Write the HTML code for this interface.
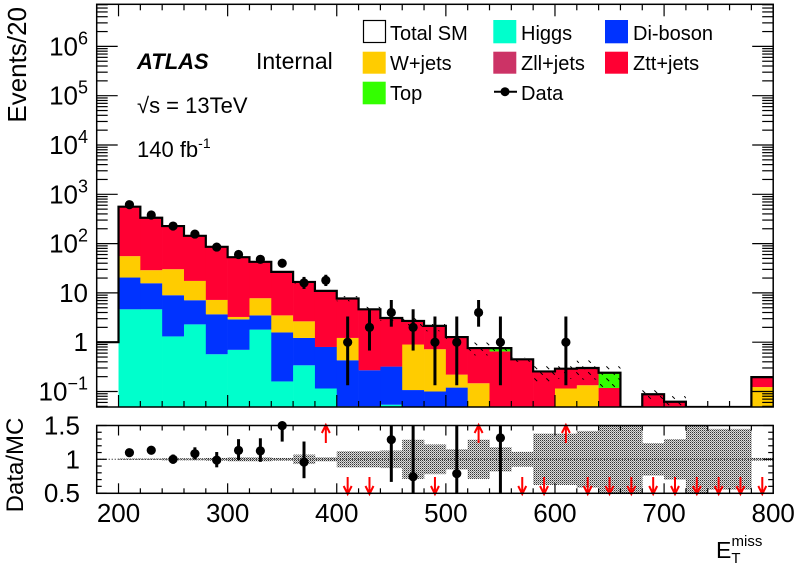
<!DOCTYPE html>
<html><head><meta charset="utf-8"><style>
html,body{margin:0;padding:0;background:#fff}
svg{display:block;font-family:"Liberation Sans",Arial,sans-serif}
</style></head><body>
<svg id="c" width="796" height="572" viewBox="0 0 796 572" xmlns="http://www.w3.org/2000/svg">
<defs>
<clipPath id="mainClip"><rect x="96.7" y="4.3" width="676.5" height="402.7"/></clipPath>
<clipPath id="ratioClip"><rect x="96.7" y="425.5" width="676.5" height="67.8"/></clipPath>
<pattern id="hatch" width="12" height="12" patternUnits="userSpaceOnUse"><path d="M0,0 L12,12" stroke="#000" stroke-width="1" stroke-dasharray="4,5"/></pattern>
<pattern id="stipple" width="2" height="2" patternUnits="userSpaceOnUse"><rect width="2" height="2" fill="#ddd"/><rect width="1" height="1" fill="#333"/><rect x="1" y="1" width="1" height="1" fill="#888"/></pattern>
</defs>
<g id="mainStack" clip-path="url(#mainClip)"></g>
<g id="mainOverlay"></g>
<g id="ratioLayer"></g>
<g id="axes"></g>
<g id="texts">
<text x="26" y="7" transform="rotate(-90 26 7)" text-anchor="end" font-size="26">Events/20</text>
<text x="23" y="465" transform="rotate(-90 23 465)" text-anchor="middle" font-size="24">Data/MC</text>
<text x="716" y="558" font-size="23">E<tspan font-size="15" dx="0" dy="5">T</tspan><tspan font-size="15" dx="-9" dy="-17">miss</tspan></text>
<text x="137" y="69" font-size="22" font-weight="bold" font-style="italic">ATLAS</text>
<text x="256" y="69" font-size="23">Internal</text>
<text x="137" y="113" font-size="22">√s = 13TeV</text>
<text x="137" y="157" font-size="22">140 fb<tspan font-size="14" dy="-9">-1</tspan></text>
</g>
<g id="legend" font-size="20">
<g><rect x="363.5" y="20.5" width="22" height="22" fill="#fff" stroke="#000" stroke-width="1.2"/><text x="390" y="40">Total SM</text></g>
<g><rect x="362.7" y="51.7" width="23" height="22" fill="#ffcc00"/><text x="390" y="70">W+jets</text></g>
<g><rect x="362.7" y="81.7" width="23" height="22.6" fill="#33ff00"/><text x="390" y="100">Top</text></g>
<g><rect x="493.3" y="20" width="23" height="23.3" fill="#00ffcc"/><text x="521" y="40">Higgs</text></g>
<g><rect x="493.3" y="51.7" width="23" height="22" fill="#cc3366"/><text x="521" y="70">Zll+jets</text></g>
<g><line x1="494" y1="91.7" x2="517" y2="91.7" stroke="#000" stroke-width="2"/><circle cx="505" cy="91.7" r="4.5"/><text x="521" y="100">Data</text></g>
<g><rect x="605" y="20" width="23" height="23.3" fill="#0033ff"/><text x="633" y="40">Di-boson</text></g>
<g><rect x="605" y="51.7" width="23" height="22" fill="#ff0033"/><text x="633" y="70">Ztt+jets</text></g>
</g>
</svg>
<script>
// ---- data (bins of 20 GeV, low edges) ----
const binLow = [200,220,240,260,280,300,320,340,360,380,400,420,440,460,480,500,520,540,560,580,600,620,640,660,680,700,720,740,760,780];
const higgs = [4.65,4.65,1.31,2.3,0.57,0.70,1.8,0.16,0.34,0.115,0.05,0.05,0.054,0.045,0.045,0.045,0.045,0.045,0.045,0.045,0.045,0.045,0.045,0,0.045,0.045,0,0,0,0.045];
const diboson = [15.85,11.05,7.66,4.8,3.11,2.2,1.7,1.42,0.88,0.685,0.38,0.22,0.266,0.062,0.055,0.075,0.002,0.004,0,0,0,0,0,0,0,0,0,0,0,0];
const wjets = [35.2,13.2,21.3,10.4,3.52,0.35,4.3,1.92,1.43,0,0.79,0,0,0.79,0.62,0.1,0.1,0,0,0,0.07,0.089,0,0,0,0,0,0,0,0.078];
const zll = [0,0,0,0,0,0,0,0,0,0,0,0,0,0,0,0,0,0,0,0,0,0,0,0,0,0,0,0,0,0];
const ztt = [505.3,306.1,196.7,126.5,78.8,49.75,34.9,23.2,14.05,10.2,6.48,4.38,2.78,1.8,1.42,1.05,0.614,0.60,0.405,0.21,0.175,0.166,0.073,0,0.043,0.017,0,0,0,0.073];
const topq = [0,0,0,0,0,0,0,0,0,0,0,0,0,0,0,0,0,0.11,0,0,0,0,0.122,0,0,0,0,0,0,0];
const dataCounts = [616,380,227,156,85,60,48,40,16,18,1,2,4,2,1,1,4,1,0,0,1,0,0,0,0,0,0,0,0,0];
const mcRelUnc = [0.01,0.01,0.015,0.015,0.02,0.03,0.03,0.02,0.07,0.03,0.12,0.12,0.13,0.29,0.22,0.15,0.29,0.18,0.11,0.38,0.38,0.42,0.5,0.5,0.24,0.3,0.5,0.45,0.45,0.02];
const xTicks = [200,300,400,500,600,700,800];
const yTickExp = [6,5,4,3,2,1,0,-1];
const ratioTicks = [0.5,1,1.5];
const binWidth = 20;
const underflowOutline = 1;

const NS = "http://www.w3.org/2000/svg";
function mk(tag, attrs, parent){const e=document.createElementNS(NS,tag);for(const k in attrs)e.setAttribute(k,attrs[k]);parent.appendChild(e);return e;}
const X0=96.7,X1=773.2,XMIN=180,XMAX=800;
const MT=4.3,MB=407,RT=425.5,RB=493.3;
function X(v){return X0+(v-XMIN)*(X1-X0)/(XMAX-XMIN);}
function Y(v){if(v<=0)return MB+50;return 194.3-(Math.log10(v)-3)*49.3;}
function R(v){return 459.3-(v-1)*67.6;}
function gUp(n){return n+Math.sqrt(n+0.75)+1;}
function gLo(n){return n>0?n-Math.sqrt(n-0.25):0;}

const stackG=document.getElementById('mainStack');
const overG=document.getElementById('mainOverlay');
const ratioG=document.getElementById('ratioLayer');
const axG=document.getElementById('axes');
const comps=[[higgs,'#00ffcc','higgs'],[diboson,'#0033ff','diboson'],[wjets,'#ffcc00','wjets'],[zll,'#cc3366','zll'],[ztt,'#ff0033','ztt'],[topq,'#33ff00','top']];
const total=binLow.map((b,i)=>comps.reduce((s,c)=>s+c[0][i],0));

binLow.forEach((b,i)=>{
  let cum=0;
  comps.forEach(c=>{
    const v=c[0][i]; if(v<=0)return;
    const y1=Y(cum+v), y0=cum>0?Y(cum):MB+50;
    const r=mk('rect',{x:X(b),y:y1,width:X(b+binWidth)-X(b)+0.3,height:Math.max(0,y0-y1),fill:c[1]},stackG);
    
    
    cum+=v;
  });
  if(total[i]>0){
    const hi=Y(total[i]*(1+mcRelUnc[i])), lo=Y(Math.max(total[i]*(1-mcRelUnc[i]),1e-3));
    const h=mk('rect',{x:X(b),y:hi,width:X(b+binWidth)-X(b),height:Math.max(0,lo-hi),fill:'url(#hatch)'},stackG);
    
    
  }
});
let d='M'+X(XMIN)+','+Y(underflowOutline)+' L'+X(binLow[0])+','+Y(underflowOutline);
binLow.forEach((b,i)=>{const y=total[i]>0?Math.min(Y(total[i]),MB):MB;d+=' L'+X(b)+','+y+' L'+X(b+binWidth)+','+y;});
const ol=mk('path',{d:d,fill:'none',stroke:'#000','stroke-width':2.2},stackG);



binLow.forEach((b,i)=>{
  const n=dataCounts[i]; if(n<=0)return;
  const cx=X(b+binWidth/2);
  const g=mk('g',{},overG);
  
  
  mk('line',{x1:cx,x2:cx,y1:Math.min(Y(gLo(n)),MB),y2:Y(gUp(n)),stroke:'#000','stroke-width':3},g);
  mk('circle',{cx:cx,cy:Y(n),r:4.6,fill:'#000'},g);
});

const rg=mk('g',{'clip-path':'url(#ratioClip)'},ratioG);
binLow.forEach((b,i)=>{
  const u=mcRelUnc[i];
  const r=mk('rect',{x:X(b),y:R(1+u),width:X(b+binWidth)-X(b)+0.3,height:R(1-u)-R(1+u),fill:'url(#stipple)'},rg);
  
  
});
mk('line',{x1:X0,x2:X1,y1:R(1),y2:R(1),stroke:'#000','stroke-width':1,'stroke-dasharray':'1,2'},rg);
binLow.forEach((b,i)=>{
  const n=dataCounts[i], mc=total[i], cx=X(b+binWidth/2);
  const ratio=mc>0?n/mc:0;
  if(mc<=0||ratio<0.5){
    const a=mk('path',{d:`M${cx},477 L${cx},494 M${cx-4},486 L${cx},494 L${cx+4},486`,stroke:'#f00','stroke-width':2,fill:'none'},ratioG);
    
    
  } else if(ratio>1.52){
    const a=mk('path',{d:`M${cx},443 L${cx},425 M${cx-4},433 L${cx},425 L${cx+4},433`,stroke:'#f00','stroke-width':2,fill:'none'},ratioG);
    
    
  } else {
    const g=mk('g',{},ratioG);
    
    
    mk('line',{x1:cx,x2:cx,y1:Math.min(R(gLo(n)/mc),RB),y2:Math.max(R(gUp(n)/mc),RT),stroke:'#000','stroke-width':3},g);
    mk('circle',{cx:cx,cy:R(ratio),r:4.6,fill:'#000'},g);
  }
});

[[MT,MB,'main-frame'],[RT,RB,'ratio-frame']].forEach(f=>{
  const r=mk('rect',{x:X0,y:f[0],width:X1-X0,height:f[1]-f[0],fill:'none',stroke:'#000','stroke-width':1.5},axG);
  
  
});
for(let v=XMIN; v<=XMAX; v+=20){
  const maj=v%100===0, x=X(v);
  mk('line',{x1:x,x2:x,y1:MB,y2:MB-(maj?12:6),stroke:'#000','stroke-width':1.2},axG);
  mk('line',{x1:x,x2:x,y1:MT,y2:MT+(maj?12:6),stroke:'#000','stroke-width':1.2},axG);
  mk('line',{x1:x,x2:x,y1:RB,y2:RB-(maj?10:5),stroke:'#000','stroke-width':1.2},axG);
  mk('line',{x1:x,x2:x,y1:RT,y2:RT+(maj?10:5),stroke:'#000','stroke-width':1.2},axG);
}
xTicks.forEach(v=>{
  const t=mk('text',{x:X(v),y:522,'text-anchor':'middle','font-size':26},axG);
  t.textContent=v;
  
  
});
for(let e=-2;e<=6;e++){
  for(let m=1;m<10;m++){
    const y=Y(m*Math.pow(10,e)); if(y<MT||y>MB)continue;
    const L=m===1?21:11;
    mk('line',{x1:X0,x2:X0+L,y1:y,y2:y,stroke:'#000','stroke-width':1.2},axG);
    mk('line',{x1:X1,x2:X1-L,y1:y,y2:y,stroke:'#000','stroke-width':1.2},axG);
  }
}
yTickExp.forEach(e=>{
  const t=mk('text',{x:88,y:Y(Math.pow(10,e))+9,'text-anchor':'end','font-size':26},axG);
  
  
  if(e===0){t.textContent='1';}
  else if(e===1){t.textContent='10';}
  else {t.textContent='10';const s=document.createElementNS(NS,'tspan');s.setAttribute('font-size','18');s.setAttribute('dy','-11');s.textContent=e<0?'\u2212'+(-e):String(e);t.appendChild(s);}
});
for(let k=5;k<=15;k++){
  const v=k/10,y=R(v),maj=k%5===0;
  mk('line',{x1:X0,x2:X0+(maj?10:5),y1:y,y2:y,stroke:'#000','stroke-width':1.2},axG);
  mk('line',{x1:X1,x2:X1-(maj?10:5),y1:y,y2:y,stroke:'#000','stroke-width':1.2},axG);
}
ratioTicks.forEach(v=>{
  const t=mk('text',{x:80,y:R(v)+9,'text-anchor':'end','font-size':26},axG);
  t.textContent=String(v);
  
  
});
</script>
</body></html>
